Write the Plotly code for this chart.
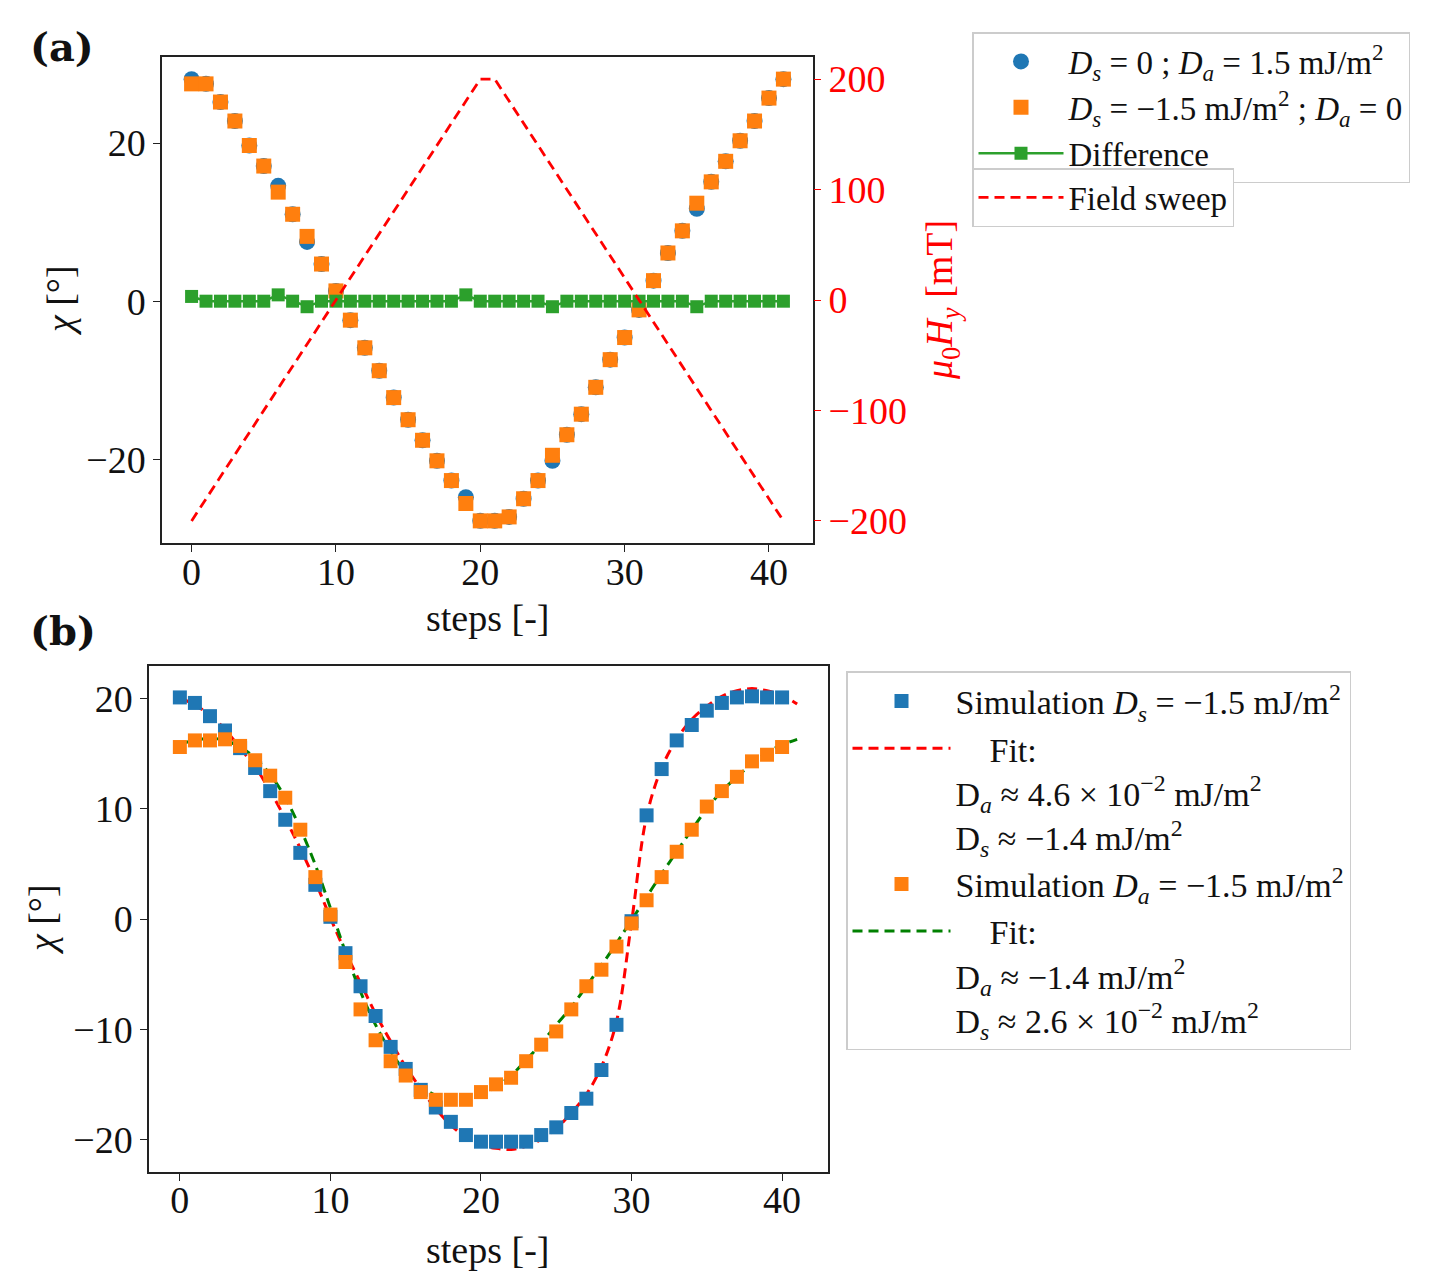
import plotly.graph_objects as go

# ---- panel (a): field sweep simulations ----
steps_a = list(range(42))
chi_ds0 = [28.1, 27.5, 25.2, 22.8, 19.7, 17.1, 14.6, 11.0, 7.5, 4.7, 1.3, -2.4, -5.9, -8.8,
           -12.2, -15.0, -17.6, -20.2, -22.7, -24.8, -27.8, -27.8, -27.3, -25.0, -22.7, -20.2,
           -16.9, -14.3, -10.9, -7.4, -4.6, -1.1, 2.6, 6.1, 8.9, 11.7, 15.1, 17.7, 20.3, 22.8,
           25.7, 28.1]
chi_da0 = [27.5, 27.5, 25.2, 22.8, 19.7, 17.1, 13.8, 11.0, 8.2, 4.7, 1.3, -2.4, -5.9, -8.8,
           -12.2, -15.0, -17.6, -20.2, -22.7, -25.6, -27.8, -27.8, -27.3, -25.0, -22.7, -19.5,
           -16.9, -14.3, -10.9, -7.4, -4.6, -1.1, 2.6, 6.1, 8.9, 12.4, 15.1, 17.7, 20.3, 22.8,
           25.7, 28.1]
chi_diff = [0.6, 0, 0, 0, 0, 0, 0.8, 0, -0.7, 0, 0, 0, 0, 0, 0, 0, 0, 0, 0, 0.8, 0, 0, 0, 0,
            0, -0.7, 0, 0, 0, 0, 0, 0, 0, 0, 0, -0.7, 0, 0, 0, 0, 0, 0]
field_mT = [-200, -180, -160, -140, -120, -100, -80, -60, -40, -20, 0, 20, 40, 60, 80, 100,
            120, 140, 160, 180, 200, 200, 180, 160, 140, 120, 100, 80, 60, 40, 20, 0, -20,
            -40, -60, -80, -100, -120, -140, -160, -180, -200]

# ---- panel (b): simulations and fits ----
steps_b = list(range(41))
sim_ds = [20.1, 19.6, 18.4, 17.1, 15.5, 13.7, 11.6, 9.0, 6.0, 3.1, 0.2, -3.1, -6.1, -8.8,
          -11.6, -13.6, -15.5, -17.1, -18.4, -19.6, -20.2, -20.2, -20.2, -20.2, -19.6, -18.9,
          -17.6, -16.3, -13.7, -9.6, -0.2, 9.4, 13.6, 16.2, 17.6, 18.9, 19.6, 20.1, 20.2, 20.1,
          20.1]
sim_da = [15.6, 16.2, 16.2, 16.3, 15.7, 14.4, 13.0, 11.0, 8.1, 3.8, 0.4, -3.9, -8.2, -11.0,
          -12.9, -14.2, -15.7, -16.4, -16.4, -16.4, -15.7, -15.0, -14.4, -12.9, -11.4, -10.2,
          -8.2, -6.1, -4.6, -2.5, -0.4, 1.7, 3.8, 6.1, 8.1, 10.2, 11.6, 12.9, 14.3, 14.9, 15.6]
steps_fit = list(range(42))
fit_ds = [20.1, 19.4, 18.5, 17.2, 15.5, 13.8, 11.6, 9.1, 6.4, 3.4, 0.1, -3.0, -5.8, -8.6,
          -11.1, -13.4, -15.4, -17.2, -18.7, -19.8, -20.5, -20.8, -20.9, -20.6, -20.0, -19.0,
          -17.6, -15.9, -13.4, -9.3, -0.3, 9.3, 13.7, 16.3, 18.1, 19.3, 20.2, 20.7, 20.9, 20.7,
          20.3, 19.5]
fit_da = [15.9, 16.2, 16.4, 16.2, 15.6, 14.6, 13.1, 11.0, 8.2, 4.9, 1.0, -3.0, -6.6, -9.6,
          -12.0, -13.9, -15.2, -16.0, -16.4, -16.4, -16.0, -15.2, -14.2, -12.8, -11.3, -9.6,
          -8.0, -6.1, -4.2, -2.2, -0.1, 2.0, 4.1, 6.1, 8.1, 10.0, 11.6, 12.9, 14.1, 15.1,
          15.8, 16.3]

BLUE, ORANGE, GREEN = "#1f77b4", "#ff7f0e", "#2ca02c"
FONT = "Liberation Serif"
# the page body keeps its 8px margin, so work in window pixels and shift
OFF, FW, FH = 8, 1440, 1270


def fx(px):
    return (px - OFF) / FW


def fy(py):
    return 1 - (py - OFF) / FH


fig = go.Figure()

fig.add_trace(go.Scatter(x=steps_a, y=chi_ds0, mode="markers", legend="legend",
                         marker=dict(symbol="circle", size=16, color=BLUE),
                         name="<i>D<sub>s</sub></i> = 0 ; <i>D<sub>a</sub></i> = 1.5 mJ/m<sup>2</sup>"))
fig.add_trace(go.Scatter(x=steps_a, y=chi_da0, mode="markers", legend="legend",
                         marker=dict(symbol="square", size=15, color=ORANGE),
                         name="<i>D<sub>s</sub></i> = −1.5 mJ/m<sup>2</sup> ; <i>D<sub>a</sub></i> = 0"))
fig.add_trace(go.Scatter(x=steps_a, y=chi_diff, mode="lines+markers", legend="legend",
                         line=dict(color=GREEN, width=2.5),
                         marker=dict(symbol="square", size=13, color=GREEN),
                         name="Difference"))
fig.add_trace(go.Scatter(x=steps_a, y=field_mT, mode="lines", yaxis="y2", legend="legend2",
                         line=dict(color="red", width=2.8, dash="10px,6px"),
                         name="Field sweep"))

# fits are drawn under the simulation markers
fig.add_trace(go.Scatter(x=steps_fit, y=fit_ds, mode="lines", xaxis="x2", yaxis="y3",
                         legend="legend3", line=dict(color="red", width=3, dash="10px,6px", shape="spline"),
                         name="\u00a0\u00a0\u00a0\u00a0Fit:<br>D<sub><i>a</i></sub> ≈ 4.6 × 10<sup>−2</sup> mJ/m<sup>2</sup>"
                              "<br>D<sub><i>s</i></sub> ≈ −1.4 mJ/m<sup>2</sup>",
                         legendrank=2))
fig.add_trace(go.Scatter(x=steps_fit, y=fit_da, mode="lines", xaxis="x2", yaxis="y3",
                         legend="legend3", line=dict(color="green", width=3, dash="10px,6px", shape="spline"),
                         name="\u00a0\u00a0\u00a0\u00a0Fit:<br>D<sub><i>a</i></sub> ≈ −1.4 mJ/m<sup>2</sup>"
                              "<br>D<sub><i>s</i></sub> ≈ 2.6 × 10<sup>−2</sup> mJ/m<sup>2</sup>",
                         legendrank=4))
fig.add_trace(go.Scatter(x=steps_b, y=sim_ds, mode="markers", xaxis="x2", yaxis="y3",
                         legend="legend3", marker=dict(symbol="square", size=14, color=BLUE),
                         name="Simulation <i>D<sub>s</sub></i> = −1.5 mJ/m<sup>2</sup>", legendrank=1))
fig.add_trace(go.Scatter(x=steps_b, y=sim_da, mode="markers", xaxis="x2", yaxis="y3",
                         legend="legend3", marker=dict(symbol="square", size=14, color=ORANGE),
                         name="Simulation <i>D<sub>a</sub></i> = −1.5 mJ/m<sup>2</sup>", legendrank=3))

axis_common = dict(showgrid=False, zeroline=False, showline=True, linecolor="#222", linewidth=1.5,
                   mirror=True, ticks="outside", ticklen=7, tickwidth=1.2, tickcolor="#222",
                   tickfont=dict(family=FONT, size=38, color="#111"))

fig.update_layout(
    width=FW, height=FH,
    margin=dict(l=0, r=0, t=0, b=0),
    paper_bgcolor="white", plot_bgcolor="white",
    font=dict(family=FONT, color="#111"),
    xaxis=dict(axis_common, domain=[fx(162), fx(813)], range=[-2.05, 43.05],
               tickvals=[0, 10, 20, 30, 40], anchor="y", ticklabelstandoff=-12),
    yaxis=dict(axis_common, domain=[fy(543), fy(57)], range=[-30.6, 30.9],
               tickvals=[-20, 0, 20], anchor="x"),
    yaxis2=dict(overlaying="y", side="right", anchor="x", range=[-220, 220],
                tickvals=[-200, -100, 0, 100, 200], showgrid=False, zeroline=False,
                showline=False, ticks="outside", ticklen=7, tickwidth=1.2, tickcolor="red",
                tickfont=dict(family=FONT, size=38, color="red")),
    xaxis2=dict(axis_common, domain=[fx(149), fx(828)], range=[-2.05, 43.05],
                tickvals=[0, 10, 20, 30, 40], anchor="y3", ticklabelstandoff=-13),
    yaxis3=dict(axis_common, domain=[fy(1172), fy(666)], range=[-22.95, 22.95],
                tickvals=[-20, -10, 0, 10, 20], anchor="x2"),
    legend=dict(x=fx(972), y=fy(32), xanchor="left", yanchor="top", bgcolor="white",
                bordercolor="#cccccc", borderwidth=1.5, font=dict(family=FONT, size=33),
                itemwidth=85),
    legend2=dict(x=fx(972), y=fy(168), xanchor="left", yanchor="top", bgcolor="white",
                 bordercolor="#cccccc", borderwidth=1.5, font=dict(family=FONT, size=33),
                 itemwidth=85),
    legend3=dict(x=fx(846), y=fy(671), xanchor="left", yanchor="top", bgcolor="white",
                 bordercolor="#cccccc", borderwidth=1.5, font=dict(family=FONT, size=34),
                 itemwidth=98, valign="top", traceorder="normal"),
    showlegend=True,
)

annotations = [
    dict(text="<b>(a)</b>", x=fx(62), y=fy(46), font=dict(family="DejaVu Serif", size=40)),
    dict(text="<b>(b)</b>", x=fx(63), y=fy(630), font=dict(family="DejaVu Serif", size=40)),
    dict(text="steps [-]", x=fx(487), y=fy(618), font=dict(family=FONT, size=38)),
    dict(text="<i>χ</i> [°]", x=fx(60), y=fy(300), textangle=-90, font=dict(family=FONT, size=38)),
    dict(text="<i>μ</i><sub>0</sub><i>H<sub>y</sub></i> [mT]", x=fx(942), y=fy(300), textangle=-90,
         font=dict(family=FONT, size=38, color="red")),
    dict(text="steps [-]", x=fx(487), y=fy(1250), font=dict(family=FONT, size=38)),
    dict(text="<i>χ</i> [°]", x=fx(42), y=fy(920), textangle=-90, font=dict(family=FONT, size=38)),
]
for a in annotations:
    a.update(xref="paper", yref="paper", showarrow=False, xanchor="center", yanchor="middle")
fig.update_layout(annotations=annotations)

fig.write_html("out.html")
